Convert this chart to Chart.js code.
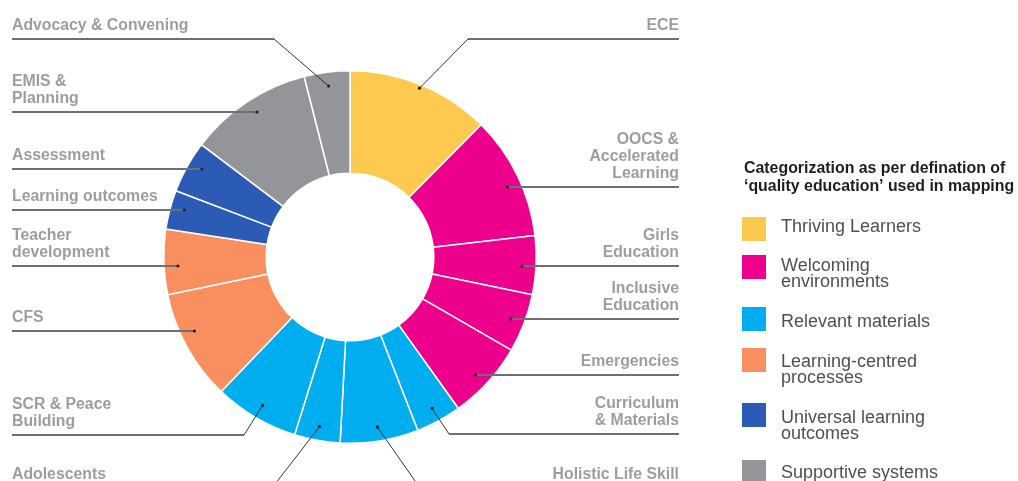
<!DOCTYPE html>
<html>
<head>
<meta charset="utf-8">
<script src="https://cdn.jsdelivr.net/npm/chart.js@4"></script>
<style>
html, body { margin: 0; padding: 0; background: #fff; }
canvas { display: block; }
</style>
</head>
<body>
<canvas id="chartContainer" width="1018" height="481"></canvas>
<script>
// thematic areas, clockwise from 12 o'clock
var areas = [
    ['ECE'],
    ['OOCS &', 'Accelerated', 'Learning'],
    ['Girls', 'Education'],
    ['Inclusive', 'Education'],
    ['Emergencies'],
    ['Curriculum', '& Materials'],
    ['Holistic Life Skill'],
    ['Adolescents'],
    ['SCR & Peace', 'Building'],
    ['CFS'],
    ['Teacher', 'development'],
    ['Learning outcomes'],
    ['Assessment'],
    ['EMIS &', 'Planning'],
    ['Advocacy & Convening']
];
var projects = [22, 19, 9, 9, 12, 7, 12, 7, 13, 17, 10, 6, 8, 19, 7];
var areaGroup = [0, 1, 1, 1, 1, 2, 2, 2, 2, 3, 3, 4, 4, 5, 5];

var groups = [
    ['Thriving Learners'],
    ['Welcoming', 'environments'],
    ['Relevant materials'],
    ['Learning-centred', 'processes'],
    ['Universal learning', 'outcomes'],
    ['Supportive systems']
];
var groupColors = ['#fec94f', '#ec008c', '#00aeef', '#f98f5e', '#2c5bb5', '#939598'];

var legendTitle = ['Categorization as per defination of', '\u2018quality education\u2019 used in mapping'];

// where each callout sits: side, y of its rule, x where the rule bends toward the slice
var callouts = [
    { side: 'right', y: 39, bend: 468, reach: 0.98 },
    { side: 'right', y: 187 },
    { side: 'right', y: 266 },
    { side: 'right', y: 319 },
    { side: 'right', y: 375 },
    { side: 'right', y: 434, bend: 449 },
    { side: 'right', y: 488, bend: 420 },
    { side: 'left', y: 488, bend: 272 },
    { side: 'left', y: 435, bend: 244 },
    { side: 'left', y: 331 },
    { side: 'left', y: 266 },
    { side: 'left', y: 210 },
    { side: 'left', y: 169 },
    { side: 'left', y: 112 },
    { side: 'left', y: 39, bend: 274 }
];

var calloutPlugin = {
    id: 'callouts',
    afterDraw: function(chart) {
        var ctx = chart.ctx;
        var arcs = chart.getDatasetMeta(0).data;
        ctx.save();
        arcs.forEach(function(arc, i) {
            var p = arc.getProps(['x', 'y', 'startAngle', 'endAngle', 'outerRadius'], true);
            var c = callouts[i];
            var r = p.outerRadius * (c.reach || 0.925);
            var dot;
            if (c.bend) {
                var mid = (p.startAngle + p.endAngle) / 2;
                dot = { x: p.x + r * Math.cos(mid), y: p.y + r * Math.sin(mid) };
            } else {
                var dy = c.y - p.y;
                var dx = Math.sqrt(Math.max(r * r - dy * dy, 0));
                dot = { x: c.side === 'right' ? p.x + dx : p.x - dx, y: c.y };
            }
            var edge = c.side === 'right' ? 679 : 12;
            var joint = c.bend ? c.bend : dot.x;

            ctx.strokeStyle = '#707072';
            ctx.lineWidth = 2;
            ctx.beginPath();
            ctx.moveTo(edge, c.y);
            ctx.lineTo(joint, c.y);
            ctx.stroke();

            if (c.bend) {
                ctx.strokeStyle = '#333';
                ctx.lineWidth = 1;
                ctx.beginPath();
                ctx.moveTo(joint, c.y);
                ctx.lineTo(dot.x, dot.y);
                ctx.stroke();
            }

            ctx.fillStyle = '#222';
            ctx.beginPath();
            ctx.arc(dot.x, dot.y, 1.6, 0, Math.PI * 2);
            ctx.fill();

            ctx.font = 'bold 15.8px "Liberation Sans", Arial, sans-serif';
            ctx.fillStyle = '#9c9d9f';
            ctx.textAlign = c.side === 'right' ? 'right' : 'left';
            ctx.textBaseline = 'alphabetic';
            var lines = areas[i];
            lines.forEach(function(t, k) {
                ctx.fillText(t, edge, c.y - 9.5 - (lines.length - 1 - k) * 17);
            });
        });

        // legend
        ctx.textAlign = 'left';
        ctx.fillStyle = '#1e1e1e';
        ctx.font = 'bold 15.9px "Liberation Sans", Arial, sans-serif';
        ctx.fillText(legendTitle[0], 744, 172.5);
        ctx.fillText(legendTitle[1], 744, 190.5);

        var swatchTop = [217, 255, 307, 348, 403, 460];
        var textBase = [231.5, 270.5, 327, 366.5, 422.5, 478];
        ctx.font = '18px "Liberation Sans", Arial, sans-serif';
        groups.forEach(function(g, k) {
            ctx.fillStyle = groupColors[k];
            ctx.fillRect(742, swatchTop[k], 24, 24);
            ctx.fillStyle = '#505052';
            g.forEach(function(t, j) {
                ctx.fillText(t, 781, textBase[k] + j * 16);
            });
        });
        ctx.restore();
    }
};

var ctx = document.getElementById('chartContainer').getContext('2d');
var myChart = new Chart(ctx, {
    type: 'doughnut',
    data: {
        labels: areas.map(function(a) { return a.join(' '); }),
        datasets: [{
            data: projects,
            backgroundColor: areaGroup.map(function(g) { return groupColors[g]; }),
            borderColor: '#ffffff',
            borderWidth: 1.5
        }]
    },
    options: {
        responsive: false,
        animation: false,
        cutout: '45%',
        layout: { padding: { left: 163, right: 481, top: 70, bottom: 37 } },
        plugins: {
            legend: { display: false },
            tooltip: { enabled: false }
        }
    },
    plugins: [calloutPlugin]
});
</script>
</body>
</html>
